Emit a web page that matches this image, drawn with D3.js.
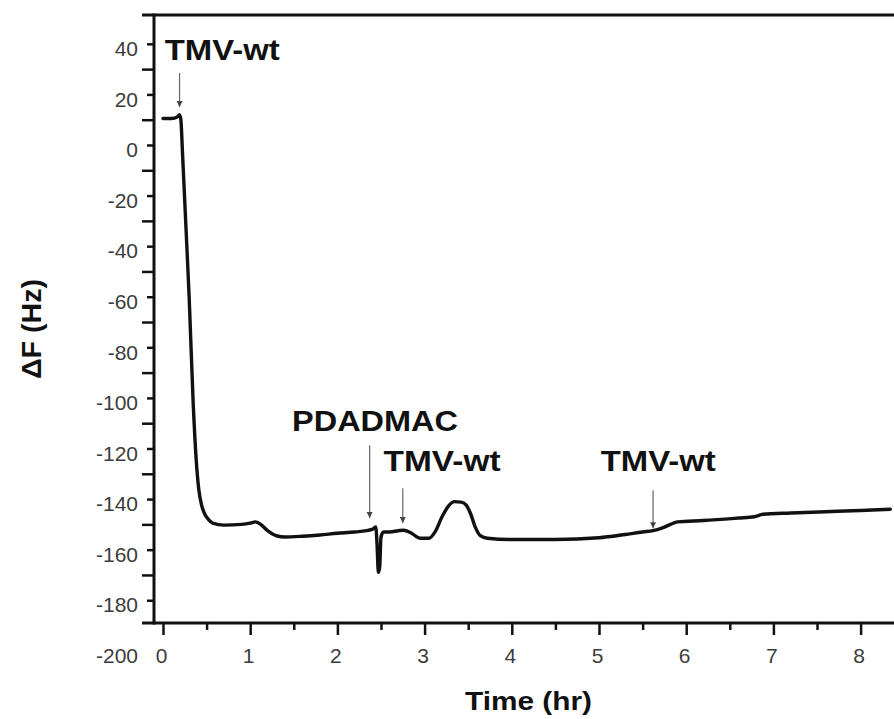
<!DOCTYPE html>
<html>
<head>
<meta charset="utf-8">
<script src="https://cdn.jsdelivr.net/npm/d3@7"></script>
<style>
  html, body { margin: 0; padding: 0; background: #fff; }
  svg { display: block; }
  text { font-family: "Liberation Sans", Arial, Helvetica, sans-serif; }
</style>
</head>
<body>
<svg id="chart" width="894" height="719"></svg>
<script>
// ---- data ----
const timeHr = [0.00, 0.10, 0.16, 0.19, 0.205, 0.225, 0.26, 0.30, 0.345, 0.38, 0.41, 0.44, 0.48, 0.52, 0.57,
  0.70, 0.90, 1.00, 1.06, 1.12, 1.20, 1.30, 1.40, 1.60, 1.80, 2.00, 2.20, 2.40, 2.44, 2.455, 2.47, 2.485, 2.50,
  2.53, 2.60, 2.70, 2.76, 2.85, 2.95, 3.05, 3.12, 3.20, 3.28, 3.34, 3.42, 3.48, 3.53, 3.58, 3.64, 3.72, 4.00,
  4.50, 5.00, 5.30, 5.50, 5.62, 5.72, 5.82, 5.90, 6.20, 6.60, 6.78, 6.88, 7.20, 7.60, 8.00, 8.34];
const deltaF = [10.5, 10.5, 11.0, 12.0, 10.0, -4, -30, -60, -101, -124, -136, -142, -146, -148, -149.5,
  -150.3, -150.0, -149.5, -149.0, -150.0, -152.5, -154.5, -155.0, -154.7, -154.2, -153.5, -153.0, -152.0, -151.0, -158, -169, -167, -155,
  -153.0, -153.0, -152.5, -152.3, -153.5, -155.5, -155.5, -153.0, -147.0, -142.5, -141.0, -141.2, -142.5, -146.0, -151.0, -154.5, -155.5, -156.0,
  -156.0, -155.3, -154.0, -153.0, -152.5, -151.5, -150.0, -149.0, -148.5, -147.5, -147.0, -146.0, -145.5, -145.0, -144.5, -144.0];

const xTickValues = [0, 1, 2, 3, 4, 5, 6, 7, 8];
const xMinorTicks = [0.5, 1.5, 2.5, 3.5, 4.5, 5.5, 6.5, 7.5];
const yTickValues = [40, 20, 0, -20, -40, -60, -80, -100, -120, -140, -160, -180, -200];
const yMinorTicks = [30, 10, -10, -30, -50, -70, -90, -110, -130, -150, -170];

const annotLabels = ["TMV-wt", "PDADMAC", "TMV-wt", "TMV-wt"];
const arrowTime = [0.19, 2.37, 2.75, 5.62];
const arrowTipValue = [15, -147.5, -149.5, -151.5];
const arrowTailValue = [28.5, -118.7, -135.7, -136.5];
const labelTime = [0.02, 1.48, 2.53, 5.02];
const labelValue = [33.5, -113, -129, -129];

const xTitle = "Time (hr)";
const yTitle = "ΔF (Hz)";

// ---- drawing ----
const svg = d3.select("#chart");
const x = d3.scaleLinear().domain([-0.103, 8.383]).range([154, 894]);
const y = d3.scaleLinear().domain([-189, 51.4]).range([623, 15]);

const ink = "#111";
const tickInk = "#3c3c3c";
const fmt = d => String(d);

// top frame and axis lines
svg.append("line").attr("x1", 142).attr("x2", 894).attr("y1", y(51.4)).attr("y2", y(51.4))
  .attr("stroke", ink).attr("stroke-width", 3);
svg.append("line").attr("x1", 142).attr("x2", 894).attr("y1", y(-189)).attr("y2", y(-189))
  .attr("stroke", ink).attr("stroke-width", 3);
svg.append("line").attr("x1", x(-0.103)).attr("x2", x(-0.103)).attr("y1", y(51.4) - 1.5).attr("y2", y(-189) + 1.5)
  .attr("stroke", ink).attr("stroke-width", 3);

// x axis ticks
const xAxis = svg.append("g").attr("transform", `translate(0,${y(-189)})`)
  .call(d3.axisBottom(x).tickValues(xTickValues).tickSize(12).tickPadding(0).tickFormat(fmt));
xAxis.select(".domain").remove();
xAxis.selectAll(".tick line").attr("stroke", ink).attr("stroke-width", 2.5);
xAxis.selectAll(".tick text").attr("y", 40).attr("dy", 0).attr("dx", -2)
  .attr("font-size", 21).attr("fill", tickInk);
const xMinor = svg.append("g").attr("transform", `translate(0,${y(-189)})`)
  .call(d3.axisBottom(x).tickValues(xMinorTicks).tickSize(7).tickFormat(""));
xMinor.select(".domain").remove();
xMinor.selectAll(".tick line").attr("stroke", ink).attr("stroke-width", 2.5);

// y axis ticks
const yAxis = svg.append("g").attr("transform", `translate(${x(-0.103)},0)`)
  .call(d3.axisLeft(y).tickValues(yTickValues).tickSize(7).tickPadding(9).tickFormat(fmt));
yAxis.select(".domain").remove();
yAxis.selectAll(".tick line").attr("stroke", ink).attr("stroke-width", 2.5)
  .attr("display", d => (d >= -189 ? null : "none"));
yAxis.selectAll(".tick text").attr("dy", "0.32em").attr("y", 5)
  .attr("font-size", 21).attr("fill", tickInk);
const yMinor = svg.append("g").attr("transform", `translate(${x(-0.103)},0)`)
  .call(d3.axisLeft(y).tickValues(yMinorTicks).tickSize(12).tickFormat(""));
yMinor.select(".domain").remove();
yMinor.selectAll(".tick line").attr("stroke", ink).attr("stroke-width", 2.5);

// data line
const pts = timeHr.map((t, i) => [t, deltaF[i]]);
svg.append("path").datum(pts)
  .attr("d", d3.line().x(d => x(d[0])).y(d => y(d[1])).curve(d3.curveMonotoneX))
  .attr("fill", "none").attr("stroke", ink).attr("stroke-width", 3.4)
  .attr("stroke-linejoin", "round").attr("stroke-linecap", "round");

// arrows
const defs = svg.append("defs");
defs.append("marker").attr("id", "ah").attr("viewBox", "0 0 10 10")
  .attr("refX", 10).attr("refY", 5).attr("markerWidth", 6).attr("markerHeight", 8)
  .attr("markerUnits", "userSpaceOnUse").attr("orient", "auto")
  .append("path").attr("d", "M0,0 L10,5 L0,10 Z").attr("fill", "#444");
arrowTime.forEach((t, i) => {
  svg.append("line")
    .attr("x1", x(t)).attr("x2", x(t))
    .attr("y1", y(arrowTailValue[i])).attr("y2", y(arrowTipValue[i]))
    .attr("stroke", "#666").attr("stroke-width", 1.2)
    .attr("marker-end", "url(#ah)");
});

// annotation labels
const labelWidths = [115, 166, 117, 115];
annotLabels.forEach((s, i) => {
  svg.append("text")
    .attr("x", x(labelTime[i])).attr("y", y(labelValue[i]))
    .attr("font-size", 29).attr("font-weight", "bold").attr("fill", ink)
    .attr("textLength", labelWidths[i]).attr("lengthAdjust", "spacingAndGlyphs")
    .text(s);
});

// axis titles
svg.append("text").attr("x", 528.5).attr("y", 710).attr("text-anchor", "middle")
  .attr("font-size", 26).attr("font-weight", "bold").attr("fill", ink)
  .attr("textLength", 127).attr("lengthAdjust", "spacingAndGlyphs")
  .text(xTitle);
svg.append("text").attr("transform", "translate(41,329) rotate(-90)").attr("text-anchor", "middle")
  .attr("font-size", 28).attr("font-weight", "bold").attr("fill", ink)
  .attr("textLength", 100).attr("lengthAdjust", "spacingAndGlyphs")
  .text(yTitle);
</script>
</body>
</html>
